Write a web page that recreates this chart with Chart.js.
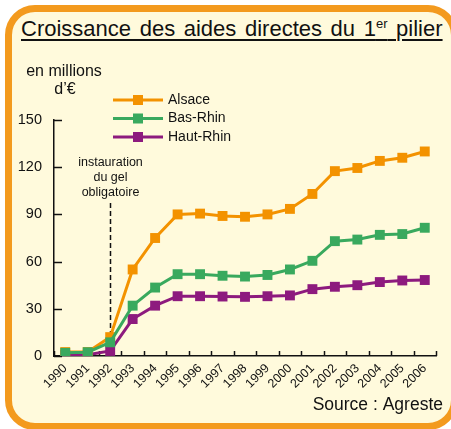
<!DOCTYPE html>
<html>
<head>
<meta charset="utf-8">
<script src="https://cdn.jsdelivr.net/npm/chart.js@4/dist/chart.umd.min.js"></script>
<style>
html, body { margin: 0; padding: 0; width: 451px; height: 429px; overflow: hidden; background: #fff; }
#frame {
    position: absolute; left: 5px; top: 5px; width: 453px; height: 425px;
    box-sizing: border-box; border: 7px solid #f39a1e; border-radius: 30px;
    background: #fffadc;
}
#title {
    position: absolute; left: 21px; top: 16px;
    font: 22px "Liberation Sans", Arial, sans-serif; color: #111;
    word-spacing: 2.5px;
    text-decoration: underline; text-decoration-thickness: 1.5px; text-underline-offset: 3px;
    white-space: nowrap;
}
#title .sup { font-size: 13px; position: relative; top: -8px; word-spacing: 0; }
canvas { position: absolute; left: 0; top: 0; }
</style>
</head>
<body>
<div id="frame"></div>
<div id="title">Croissance des aides directes du 1<span class="sup">er</span> pilier</div>
<canvas id="chart" width="451" height="429"></canvas>
<script>
const years = ['1990', '1991', '1992', '1993', '1994', '1995', '1996', '1997', '1998',
               '1999', '2000', '2001', '2002', '2003', '2004', '2005', '2006'];
const alsace   = [2.5, 2.5, 12, 55, 75, 90, 90.5, 89, 88.5, 90, 93.5, 103, 117.5, 119.5, 124, 126, 130];
const basRhin  = [2, 2.4, 8.7, 32, 43.5, 52, 52, 51, 50.5, 51.5, 55, 60.5, 73, 74, 77, 77.5, 81.5];
const hautRhin = [0.6, 0.8, 3.2, 23.5, 32, 38, 38, 37.8, 37.6, 38, 38.5, 42.5, 44, 45, 47, 48, 48.3];
const yTicks = [0, 30, 60, 90, 120, 150];
const seriesNames = ['Alsace', 'Bas-Rhin', 'Haut-Rhin'];
const seriesColors = ['#f39200', '#39a95e', '#8d1a7e'];

const font = '"Liberation Sans", Arial, sans-serif';

function line(label, data, color, order) {
    return {
        label: label,
        data: data,
        borderColor: color,
        backgroundColor: color,
        borderWidth: 3,
        pointStyle: 'rect',
        pointRadius: 7,
        pointBorderWidth: 0,
        pointHoverRadius: 7,
        tension: 0,
        order: order
    };
}

const decor = {
    id: 'decor',
    beforeDatasetsDraw(chart) {
        const ctx = chart.ctx;
        const x = chart.scales.x, y = chart.scales.y;
        ctx.save();
        ctx.strokeStyle = '#111';
        ctx.lineWidth = 1.5;
        // inner ticks on the y axis
        yTicks.forEach(v => {
            const py = Math.round(y.getPixelForValue(v)) + 0.5;
            ctx.beginPath();
            ctx.moveTo(x.left, py);
            ctx.lineTo(x.left + 8, py);
            ctx.stroke();
        });
        // inner ticks on the x axis, between categories
        const step = x.getPixelForValue(1) - x.getPixelForValue(0);
        for (let i = 0; i <= years.length; i++) {
            const px = Math.round(x.getPixelForValue(i) - step / 2) + 0.5;
            ctx.beginPath();
            ctx.moveTo(px, y.bottom);
            ctx.lineTo(px, y.bottom - 5);
            ctx.stroke();
        }
        // dashed marker at 1992
        const mx = Math.round(x.getPixelForValue(2)) + 0.5;
        ctx.setLineDash([5, 3]);
        ctx.beginPath();
        ctx.moveTo(mx, 203);
        ctx.lineTo(mx, y.bottom);
        ctx.stroke();
        ctx.setLineDash([]);
        ctx.fillStyle = '#111';
        ctx.font = '12.5px ' + font;
        ctx.textAlign = 'center';
        ctx.textBaseline = 'middle';
        ctx.fillText('instauration', mx, 163);
        ctx.fillText('du gel', mx, 178);
        ctx.fillText('obligatoire', mx, 193);
        ctx.restore();
    },
    afterDraw(chart) {
        const ctx = chart.ctx;
        ctx.save();
        // unit label
        ctx.fillStyle = '#111';
        ctx.font = '16px ' + font;
        ctx.textAlign = 'center';
        ctx.textBaseline = 'middle';
        ctx.fillText('en millions', 64, 72);
        ctx.fillText('d\u2019\u20ac', 65, 90);
        // legend
        const rows = [100, 118.5, 137];
        seriesNames.forEach((name, i) => {
            ctx.strokeStyle = seriesColors[i];
            ctx.fillStyle = seriesColors[i];
            ctx.lineWidth = 3;
            ctx.beginPath();
            ctx.moveTo(113, rows[i]);
            ctx.lineTo(163, rows[i]);
            ctx.stroke();
            ctx.fillRect(133, rows[i] - 5, 10, 10);
            ctx.fillStyle = '#111';
            ctx.font = '14px ' + font;
            ctx.textAlign = 'left';
            ctx.fillText(name, 168, rows[i]);
        });
        // source
        ctx.font = '17.5px ' + font;
        ctx.textAlign = 'right';
        ctx.textBaseline = 'alphabetic';
        ctx.fillText('Source : Agreste', 443, 410);
        ctx.restore();
    }
};

new Chart(document.getElementById('chart'), {
    type: 'line',
    data: {
        labels: years,
        datasets: [
            line(seriesNames[0], alsace, seriesColors[0], 1),
            line(seriesNames[1], basRhin, seriesColors[1], 0),
            line(seriesNames[2], hautRhin, seriesColors[2], 2)
        ]
    },
    options: {
        responsive: false,
        animation: false,
        devicePixelRatio: 1,
        layout: { padding: { left: 0, right: 15, top: 120, bottom: 0 } },
        plugins: { legend: { display: false }, tooltip: { enabled: false } },
        scales: {
            x: {
                type: 'category',
                offset: true,
                grid: { display: false, drawTicks: false },
                border: { display: true, color: '#111', width: 1.5 },
                ticks: {
                    color: '#111',
                    font: { family: font, size: 12.5 },
                    minRotation: 45,
                    maxRotation: 45,
                    padding: 5,
                    autoSkip: false
                },
                afterFit(scale) { scale.height = 73; }
            },
            y: {
                min: 0,
                max: 150,
                grid: { display: false, drawTicks: false },
                border: { display: true, color: '#111', width: 1.5 },
                ticks: {
                    color: '#111',
                    font: { family: font, size: 14.5 },
                    padding: 12
                },
                afterBuildTicks(scale) { scale.ticks = yTicks.map(v => ({ value: v })); },
                afterFit(scale) { scale.width = 54; }
            }
        }
    },
    plugins: [decor]
});
</script>
</body>
</html>
